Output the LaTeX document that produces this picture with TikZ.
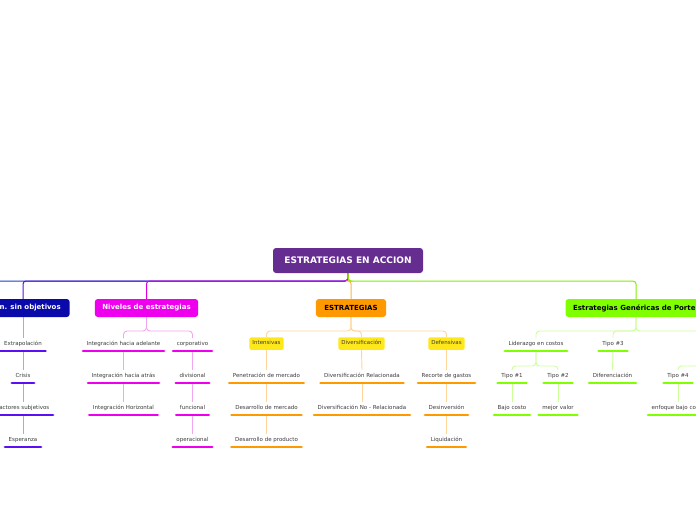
\documentclass[tikz,border=0pt]{standalone}
\usepackage{fontspec}
\setmainfont{DejaVu Sans}
\usetikzlibrary{calc,backgrounds}
\definecolor{rootc}{HTML}{662D91}
\definecolor{planc}{HTML}{0A0AAA}
\definecolor{magc}{HTML}{EE00EE}
\definecolor{orc}{HTML}{FF9900}
\definecolor{grc}{HTML}{80FF00}
\definecolor{yelc}{HTML}{FFE81A}
\definecolor{txtc}{HTML}{3C3C3C}
\definecolor{pbar}{HTML}{5A0FF5}
\definecolor{lblue}{HTML}{1E3CD2}
\definecolor{lpurp}{HTML}{5A14DC}
\definecolor{lmag}{HTML}{DD00DD}
\definecolor{lor}{HTML}{FFB347}
\definecolor{lgr}{HTML}{80F000}
\definecolor{plight}{HTML}{B89CFF}
\definecolor{mlight}{HTML}{F2A6F2}
\definecolor{olight}{HTML}{FFD59A}
\definecolor{glight}{HTML}{CCFF99}
\tikzset{
  rootbox/.style={fill=rootc, rounded corners=3pt, text=white, font=\fontsize{9}{10}\selectfont\bfseries, minimum width=150pt, minimum height=25pt, inner sep=0pt},
  mainbox/.style={rounded corners=3pt, font=\fontsize{7}{8}\selectfont\bfseries, minimum height=18pt, inner xsep=7.5pt, inner ysep=0pt},
  ybox/.style={fill=yelc, rounded corners=1.5pt, text=txtc, font=\fontsize{5.5}{6}\selectfont, text height=4pt, text depth=1.5pt, inner xsep=3pt, inner ysep=3.5pt},
  leaf/.style={text=txtc, font=\fontsize{5.5}{6}\selectfont, text height=4pt, text depth=1.5pt, inner xsep=3.5pt, inner ysep=3.5pt,
    append after command={(\tikzlastnode.south west) edge[draw=#1, line width=2.8pt, line cap=round] (\tikzlastnode.south east)}},
  leaf/.default=black,
  mainln/.style={draw=#1, line width=1pt, rounded corners=3pt},
  subln/.style={draw=#1, line width=0.9pt, rounded corners=3.5pt},
}
\begin{document}
\begin{tikzpicture}[x=1pt,y=-1pt]
\useasboundingbox (0,0) rectangle (696,520);
\clip (0,0) rectangle (696,520);

\coordinate (hy) at (0,281);
\coordinate (fy) at (0,331);
\coordinate (ly) at (0,366);
\coordinate (offL) at (-30,281);
\coordinate (offPn) at (745,338);
\coordinate (offPs) at (745,351);

% root and main nodes
\node[rootbox] (root) at (348,260.5) {ESTRATEGIAS EN ACCION};
\node[mainbox, fill=planc, text=white, inner xsep=9pt] (plan) at (24,308) {Plan. sin objetivos};
\node[mainbox, fill=magc, text=white] (niv) at (146.5,308) {Niveles de estrategias};
\node[mainbox, fill=orc, text=black, inner xsep=8.5pt] (estr) at (351,308) {ESTRATEGIAS};
\node[mainbox, fill=grc, text=black] (porter) at (636,308) {Estrategias Genéricas de Porter};

% Plan branch
\node[leaf=pbar] (extr) at (23,344.5) {Extrapolación};
\node[leaf=pbar] (cris) at (23,376.5) {Crisis};
\node[leaf=pbar] (fact) at (23,408.5) {Factores subjetivos};
\node[leaf=pbar] (esp) at (23,440.5) {Esperanza};

% Niveles branch
\node[leaf=magc] (iha) at (123.5,344.5) {Integración hacia adelante};
\node[leaf=magc] (ihat) at (123.5,376.5) {Integración hacia atrás};
\node[leaf=magc] (ihz) at (123.5,408.5) {Integración Horizontal};
\node[leaf=magc] (corp) at (192.5,344.5) {corporativo};
\node[leaf=magc] (divi) at (192.5,376.5) {divisional};
\node[leaf=magc] (func) at (192.5,408.5) {funcional};
\node[leaf=magc] (oper) at (192.5,440.5) {operacional};

% ESTRATEGIAS branch
\node[ybox] (inte) at (266.5,343.5) {Intensivas};
\node[ybox] (dive) at (361.5,343.5) {Diversificación};
\node[ybox] (defe) at (446.5,343.5) {Defensivas};
\node[leaf=orc] (pen) at (266.5,376.5) {Penetración de mercado};
\node[leaf=orc] (dm) at (266.5,408.5) {Desarrollo de mercado};
\node[leaf=orc] (dp) at (266.5,440.5) {Desarrollo de producto};
\node[leaf=orc] (dr) at (362,376.5) {Diversificación Relacionada};
\node[leaf=orc] (dnr) at (362,408.5) {Diversificación No - Relacionada};
\node[leaf=orc] (rg) at (446.5,376.5) {Recorte de gastos};
\node[leaf=orc] (desi) at (446.5,408.5) {Desinversión};
\node[leaf=orc] (liq) at (446.5,440.5) {Liquidación};

% Porter branch
\node[leaf=grc] (lid) at (536,344.5) {Liderazgo en costos};
\node[leaf=grc] (t3) at (613,344.5) {Tipo \#3};
\node[leaf=grc] (t1) at (512,376.5) {Tipo \#1};
\node[leaf=grc] (t2) at (558,376.5) {Tipo \#2};
\node[leaf=grc] (bc) at (512,408.5) {Bajo costo};
\node[leaf=grc] (mv) at (558,408.5) {mejor valor};
\node[leaf=grc] (dif) at (612.5,376.5) {Diferenciación};
\node[leaf=grc] (t4) at (678,376.5) {Tipo \#4};
\node[leaf=grc] (ebc) at (678,408.5) {enfoque bajo costo};

\begin{scope}[on background layer]
\fill[white] (0,0) rectangle (696,520);
% main branches
\draw[mainln=lblue] (root.south) -- (root.south |- hy) -- (offL);
\draw[mainln=lpurp] (root.south) -- (root.south |- hy) -- ([xshift=-1pt]plan.north |- hy) -- ([xshift=-1pt]plan.north);
\draw[mainln=lmag] (root.south) -- (root.south |- hy) -- (niv.north |- hy) -- (niv.north);
\draw[mainln=lor] (root.south) -- (root.south |- hy) -- (estr.north |- hy) -- (estr.north);
\draw[mainln=lgr] (root.south) -- (root.south |- hy) -- (porter.north |- hy) -- (porter.north);

% Plan chain
\draw[subln=plight] ([xshift=-1pt]plan.south) -- (extr.north);
\draw[subln=plight] (extr.south) -- (cris.north);
\draw[subln=plight] (cris.south) -- (fact.north);
\draw[subln=plight] (fact.south) -- (esp.north);

% Niveles
\draw[subln=mlight] (niv.south) -- (niv.south |- fy) -- (iha.north |- fy) -- (iha.north);
\draw[subln=mlight] (niv.south) -- (niv.south |- fy) -- (corp.north |- fy) -- (corp.north);
\draw[subln=mlight] (iha.south) -- (ihat.north);
\draw[subln=mlight] (ihat.south) -- (ihz.north);
\draw[subln=mlight] (corp.south) -- (divi.north);
\draw[subln=mlight] (divi.south) -- (func.north);
\draw[subln=mlight] (func.south) -- (oper.north);

% ESTRATEGIAS
\draw[subln=olight] (estr.south) -- (estr.south |- fy) -- (inte.north |- fy) -- (inte.north);
\draw[subln=olight] (estr.south) -- (estr.south |- fy) -- (dive.north |- fy) -- (dive.north);
\draw[subln=olight] (estr.south) -- (estr.south |- fy) -- (defe.north |- fy) -- (defe.north);
\draw[subln=olight] (inte.south) -- (pen.north);
\draw[subln=olight] (pen.south) -- (dm.north);
\draw[subln=olight] (dm.south) -- (dp.north);
\draw[subln=olight] (dive.south) -- (dr.north);
\draw[subln=olight] (dr.south) -- (dnr.north);
\draw[subln=olight] (defe.south) -- (rg.north);
\draw[subln=olight] (rg.south) -- (desi.north);
\draw[subln=olight] (desi.south) -- (liq.north);

% Porter
\draw[subln=glight] (porter.south) -- (porter.south |- fy) -- (lid.north |- fy) -- (lid.north);
\draw[subln=glight] (porter.south) -- (porter.south |- fy) -- (t3.north |- fy) -- (t3.north);
\draw[subln=glight] (porter.south) -- (porter.south |- fy) -- (offPn |- fy) -- (offPn);
\draw[subln=glight] (lid.south) -- (lid.south |- ly) -- (t1.north |- ly) -- (t1.north);
\draw[subln=glight] (lid.south) -- (lid.south |- ly) -- (t2.north |- ly) -- (t2.north);
\draw[subln=glight] (t1.south) -- (bc.north);
\draw[subln=glight] (t2.south) -- (mv.north);
\draw[subln=glight] (t3.south) -- (dif.north);
\draw[subln=glight] (offPs) -- (offPs |- ly) -- (t4.north |- ly) -- (t4.north);
\draw[subln=glight] (t4.south) -- (ebc.north);
\end{scope}
\end{tikzpicture}
\end{document}
